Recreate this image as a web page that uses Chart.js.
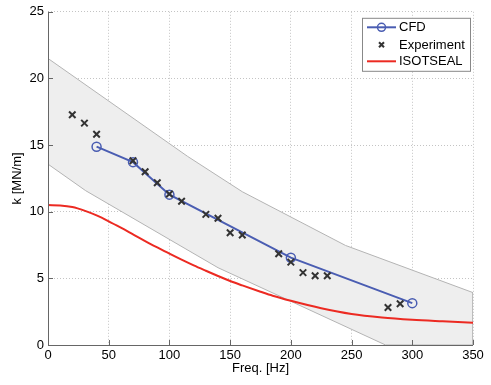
<!DOCTYPE html>
<html>
<head>
<meta charset="utf-8">
<script src="https://cdn.jsdelivr.net/npm/chart.js@4.4.1/dist/chart.umd.min.js"></script>
<style>
  html, body { margin: 0; padding: 0; background: #fff; }
  #wrap { width: 491px; height: 385px; }
</style>
</head>
<body>
<div id="wrap"><canvas id="kChart" width="491" height="385"></canvas></div>
<script>
// valores
const cfdFreq = [40, 70, 100, 200, 300];
const cfdK = [14.88, 13.72, 11.28, 6.55, 3.14];

const expFreq = [20, 30, 40, 70, 80, 90, 100, 110, 130, 140, 150, 160, 190, 200, 210, 220, 230, 280, 290];
const expK = [17.27, 16.65, 15.81, 13.82, 13.0, 12.17, 11.33, 10.78, 9.8, 9.51, 8.42, 8.25, 6.85, 6.22, 5.43, 5.2, 5.2, 2.81, 3.09];

const isoFreq = [0, 10, 20, 30, 40, 50, 60, 70, 80, 90, 100, 110, 120, 130, 140, 150, 160, 175, 185, 200, 225, 250, 275, 300, 325, 350];
const isoK = [10.5, 10.47, 10.35, 10.08, 9.72, 9.28, 8.8, 8.3, 7.8, 7.32, 6.85, 6.4, 5.97, 5.57, 5.18, 4.8, 4.47, 4.0, 3.7, 3.32, 2.76, 2.33, 2.07, 1.9, 1.78, 1.67];

// banda de incertidumbre (gris)
const bandUpperFreq = [0, 115, 160, 245, 350];
const bandUpper = [21.5, 14.15, 11.5, 7.47, 3.93];
const bandLowerFreq = [0, 31, 140, 278, 350];
const bandLower = [13.57, 11.58, 5.8, 0, 0];

const xTicks = [0, 50, 100, 150, 200, 250, 300, 350];
const yTicks = [0, 5, 10, 15, 20, 25];

const FONT = "'Liberation Sans', Arial, Helvetica, sans-serif";
const BLUE = '#4a5db2';
const RED = '#ec2a22';
const CROSS = '#333333';

const toPts = (xs, ys) => xs.map((x, i) => ({ x: x, y: ys[i] }));

// ejes estilo matlab: línea izquierda e inferior con marcas hacia dentro
const axesPlugin = {
    id: 'axesPlugin',
    afterDatasetsDraw(chart) {
        const { ctx, chartArea: a, scales: { x, y } } = chart;
        ctx.save();
        ctx.strokeStyle = '#666';
        ctx.lineWidth = 1;
        ctx.beginPath();
        ctx.moveTo(a.left + 0.5, a.top);
        ctx.lineTo(a.left + 0.5, a.bottom + 0.5);
        ctx.lineTo(a.right, a.bottom + 0.5);
        xTicks.forEach(v => {
            const px = Math.round(x.getPixelForValue(v)) + 0.5;
            ctx.moveTo(px, a.bottom);
            ctx.lineTo(px, a.bottom - 5);
        });
        yTicks.forEach(v => {
            const py = Math.round(y.getPixelForValue(v)) + 0.5;
            ctx.moveTo(a.left, py);
            ctx.lineTo(a.left + 5, py);
        });
        ctx.stroke();
        ctx.restore();
    }
};

// leyenda con recuadro dentro del área del gráfico
const boxLegend = {
    id: 'boxLegend',
    afterDraw(chart) {
        const { ctx, chartArea: a } = chart;
        const ds = chart.data.datasets;
        const items = [ds[3], ds[4], ds[2]];
        const right = a.right - 3, top = a.top + 6;
        const w = 108, h = 53;
        const left = right - w;
        ctx.save();
        ctx.fillStyle = '#fff';
        ctx.fillRect(left, top, w, h);
        ctx.strokeStyle = '#888';
        ctx.lineWidth = 1;
        ctx.strokeRect(left + 0.5, top + 0.5, w, h);
        ctx.font = '13px ' + FONT;
        ctx.textBaseline = 'middle';
        ctx.fillStyle = '#000';
        const rows = [top + 9.5, top + 27, top + 43.5];
        const x0 = left + 5, x1 = left + 34, xm = (x0 + x1) / 2;
        items.forEach((d, i) => {
            const yy = rows[i];
            if (d.showLine !== false) {
                ctx.strokeStyle = d.borderColor;
                ctx.lineWidth = d.borderWidth;
                ctx.beginPath();
                ctx.moveTo(x0, yy);
                ctx.lineTo(x1, yy);
                ctx.stroke();
            }
            if (d.pointStyle === 'circle' && d.pointRadius > 0) {
                ctx.strokeStyle = d.borderColor;
                ctx.lineWidth = 1.5;
                ctx.beginPath();
                ctx.arc(xm, yy, 4, 0, Math.PI * 2);
                ctx.stroke();
            } else if (d.pointStyle === 'crossRot') {
                ctx.strokeStyle = d.borderColor;
                ctx.lineWidth = 2;
                ctx.beginPath();
                ctx.moveTo(xm - 2.5, yy - 2.5); ctx.lineTo(xm + 2.5, yy + 2.5);
                ctx.moveTo(xm + 2.5, yy - 2.5); ctx.lineTo(xm - 2.5, yy + 2.5);
                ctx.stroke();
            }
            ctx.fillStyle = '#000';
            ctx.fillText(d.label, x1 + 3, yy + 0.5);
        });
        ctx.restore();
    }
};

const ctx = document.getElementById('kChart').getContext('2d');

new Chart(ctx, {
    type: 'line',
    data: {
        datasets: [
            {
                label: 'band upper',
                data: toPts(bandUpperFreq, bandUpper),
                borderColor: '#b4b4b4', borderWidth: 1,
                backgroundColor: '#eeeeee',
                pointRadius: 0, fill: '+1', order: 10
            },
            {
                label: 'band lower',
                data: toPts(bandLowerFreq, bandLower),
                borderColor: '#b4b4b4', borderWidth: 1,
                pointRadius: 0, fill: false, order: 9
            },
            {
                label: 'ISOTSEAL',
                data: toPts(isoFreq, isoK),
                borderColor: RED, borderWidth: 2,
                pointRadius: 0, fill: false,
                cubicInterpolationMode: 'monotone', order: 3
            },
            {
                label: 'CFD',
                data: toPts(cfdFreq, cfdK),
                borderColor: BLUE, borderWidth: 2,
                pointStyle: 'circle', pointRadius: 4.5,
                pointBorderWidth: 1.5, pointBackgroundColor: 'rgba(0,0,0,0)',
                pointBorderColor: BLUE, fill: false, order: 2
            },
            {
                label: 'Experiment',
                data: toPts(expFreq, expK),
                showLine: false,
                borderColor: CROSS, borderWidth: 2,
                pointStyle: 'crossRot', pointRadius: 4.6,
                pointBorderWidth: 2, pointBorderColor: CROSS, order: 1
            },
            {
                label: 'band edge',
                data: [{ x: bandUpperFreq[bandUpperFreq.length - 1], y: bandUpper[bandUpper.length - 1] },
                       { x: bandLowerFreq[bandLowerFreq.length - 1], y: bandLower[bandLower.length - 1] }],
                borderColor: '#b4b4b4', borderWidth: 1,
                pointRadius: 0, fill: false, order: 8
            }
        ]
    },
    options: {
        responsive: false,
        animation: false,
        layout: { padding: { top: 10, right: 18, left: 0, bottom: 0 } },
        scales: {
            x: {
                type: 'linear', min: 0, max: 350,
                afterFit: s => { s.height = 40; },
                afterBuildTicks: s => { s.ticks = xTicks.map(v => ({ value: v })); },
                ticks: { color: '#000', font: { family: FONT, size: 13 }, padding: 3, maxRotation: 0 },
                grid: { color: '#c4c4c4', lineWidth: 1, drawTicks: false },
                border: { display: false, dash: [1, 2] },
                title: {
                    display: true, text: 'Freq. [Hz]', color: '#000',
                    font: { family: FONT, size: 13 }, padding: { top: 0, bottom: 9 }
                }
            },
            y: {
                type: 'linear', min: 0, max: 25,
                afterFit: s => { s.width = 48; },
                afterBuildTicks: s => { s.ticks = yTicks.map(v => ({ value: v })); },
                ticks: { color: '#000', font: { family: FONT, size: 13 }, padding: 4 },
                grid: { color: '#c4c4c4', lineWidth: 1, drawTicks: false },
                border: { display: false, dash: [1, 2] },
                title: {
                    display: true, text: 'k [MN/m]', color: '#000',
                    font: { family: FONT, size: 13 }, padding: { top: 10, bottom: 0 }
                }
            }
        },
        plugins: {
            legend: { display: false },
            tooltip: { enabled: false }
        }
    },
    plugins: [axesPlugin, boxLegend]
});
</script>
</body>
</html>
